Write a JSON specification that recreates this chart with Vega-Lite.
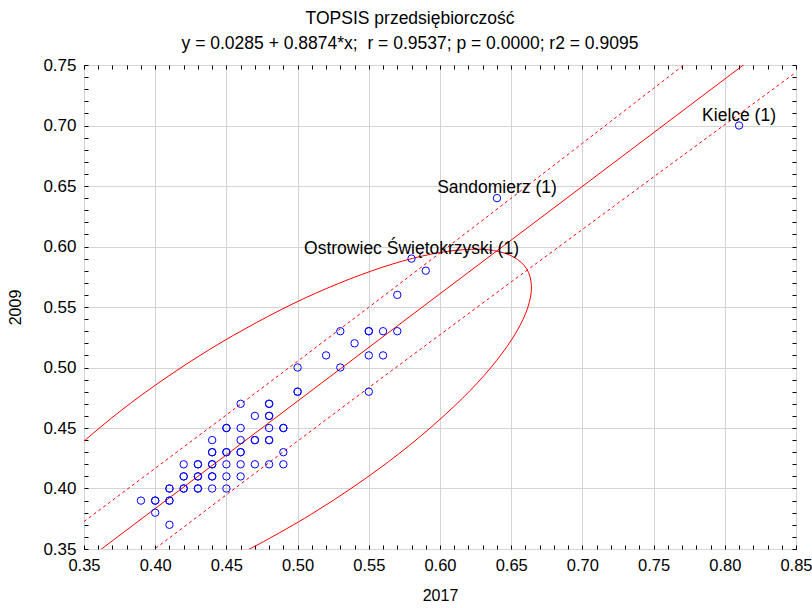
{
  "$schema": "https://vega.github.io/schema/vega-lite/v6.json",
  "width": 712,
  "height": 484,
  "autosize": "none",
  "padding": {"left": 84, "top": 65, "right": 16, "bottom": 59},
  "background": "white",
  "title": {
    "text": ["TOPSIS przedsiębiorczość", "y = 0.0285 + 0.8874*x;\u00a0 r = 0.9537; p = 0.0000; r2 = 0.9095"],
    "font": "Liberation Sans",
    "fontSize": 17.5,
    "fontWeight": "normal",
    "color": "black",
    "anchor": "middle",
    "frame": "bounds",
    "lineHeight": 25,
    "offset": 4
  },
  "config": {
    "view": {"stroke": "black", "strokeWidth": 1},
    "axis": {
      "labelFont": "Liberation Sans",
      "labelFontSize": 17,
      "labelColor": "black",
      "titleFont": "Liberation Sans",
      "titleFontSize": 16,
      "titleFontWeight": "normal",
      "titleColor": "black",
      "domain": false,
      "tickColor": "black",
      "gridColor": "#d4d4d4",
      "gridWidth": 1
    }
  },
  "datasets": {
    "towns": [
      {"x": 0.41, "y": 0.37, "label": ""},
      {"x": 0.40, "y": 0.38, "label": ""},
      {"x": 0.39, "y": 0.39, "label": ""},
      {"x": 0.40, "y": 0.39, "label": ""},
      {"x": 0.40, "y": 0.39, "label": ""},
      {"x": 0.41, "y": 0.39, "label": ""},
      {"x": 0.41, "y": 0.39, "label": ""},
      {"x": 0.41, "y": 0.40, "label": ""},
      {"x": 0.41, "y": 0.40, "label": ""},
      {"x": 0.42, "y": 0.40, "label": ""},
      {"x": 0.42, "y": 0.40, "label": ""},
      {"x": 0.43, "y": 0.40, "label": ""},
      {"x": 0.43, "y": 0.40, "label": ""},
      {"x": 0.44, "y": 0.40, "label": ""},
      {"x": 0.45, "y": 0.40, "label": ""},
      {"x": 0.42, "y": 0.41, "label": ""},
      {"x": 0.42, "y": 0.41, "label": ""},
      {"x": 0.43, "y": 0.41, "label": ""},
      {"x": 0.43, "y": 0.41, "label": ""},
      {"x": 0.44, "y": 0.41, "label": ""},
      {"x": 0.44, "y": 0.41, "label": ""},
      {"x": 0.45, "y": 0.41, "label": ""},
      {"x": 0.46, "y": 0.41, "label": ""},
      {"x": 0.42, "y": 0.42, "label": ""},
      {"x": 0.43, "y": 0.42, "label": ""},
      {"x": 0.43, "y": 0.42, "label": ""},
      {"x": 0.44, "y": 0.42, "label": ""},
      {"x": 0.44, "y": 0.42, "label": ""},
      {"x": 0.45, "y": 0.42, "label": ""},
      {"x": 0.46, "y": 0.42, "label": ""},
      {"x": 0.47, "y": 0.42, "label": ""},
      {"x": 0.48, "y": 0.42, "label": ""},
      {"x": 0.49, "y": 0.42, "label": ""},
      {"x": 0.44, "y": 0.43, "label": ""},
      {"x": 0.44, "y": 0.43, "label": ""},
      {"x": 0.45, "y": 0.43, "label": ""},
      {"x": 0.45, "y": 0.43, "label": ""},
      {"x": 0.46, "y": 0.43, "label": ""},
      {"x": 0.46, "y": 0.43, "label": ""},
      {"x": 0.49, "y": 0.43, "label": ""},
      {"x": 0.44, "y": 0.44, "label": ""},
      {"x": 0.46, "y": 0.44, "label": ""},
      {"x": 0.47, "y": 0.44, "label": ""},
      {"x": 0.47, "y": 0.44, "label": ""},
      {"x": 0.48, "y": 0.44, "label": ""},
      {"x": 0.48, "y": 0.44, "label": ""},
      {"x": 0.45, "y": 0.45, "label": ""},
      {"x": 0.45, "y": 0.45, "label": ""},
      {"x": 0.46, "y": 0.45, "label": ""},
      {"x": 0.48, "y": 0.45, "label": ""},
      {"x": 0.49, "y": 0.45, "label": ""},
      {"x": 0.49, "y": 0.45, "label": ""},
      {"x": 0.47, "y": 0.46, "label": ""},
      {"x": 0.48, "y": 0.46, "label": ""},
      {"x": 0.48, "y": 0.46, "label": ""},
      {"x": 0.46, "y": 0.47, "label": ""},
      {"x": 0.48, "y": 0.47, "label": ""},
      {"x": 0.48, "y": 0.47, "label": ""},
      {"x": 0.50, "y": 0.48, "label": ""},
      {"x": 0.50, "y": 0.48, "label": ""},
      {"x": 0.55, "y": 0.48, "label": ""},
      {"x": 0.50, "y": 0.50, "label": ""},
      {"x": 0.53, "y": 0.50, "label": ""},
      {"x": 0.52, "y": 0.51, "label": ""},
      {"x": 0.55, "y": 0.51, "label": ""},
      {"x": 0.56, "y": 0.51, "label": ""},
      {"x": 0.54, "y": 0.52, "label": ""},
      {"x": 0.53, "y": 0.53, "label": ""},
      {"x": 0.55, "y": 0.53, "label": ""},
      {"x": 0.55, "y": 0.53, "label": ""},
      {"x": 0.56, "y": 0.53, "label": ""},
      {"x": 0.57, "y": 0.53, "label": ""},
      {"x": 0.57, "y": 0.56, "label": ""},
      {"x": 0.59, "y": 0.58, "label": ""},
      {"x": 0.58, "y": 0.59, "label": "Ostrowiec Świętokrzyski (1)"},
      {"x": 0.64, "y": 0.64, "label": "Sandomierz (1)"},
      {"x": 0.81, "y": 0.70, "label": "Kielce (1)"}
    ],
    "fit": [
      {"x": 0.35, "y": 0.3391},
      {"x": 0.85, "y": 0.7828}
    ],
    "band": [
      {"x": 0.35, "lo": 0.3055, "hi": 0.3727},
      {"x": 0.40, "lo": 0.3503, "hi": 0.4167},
      {"x": 0.45, "lo": 0.3948, "hi": 0.4608},
      {"x": 0.50, "lo": 0.4392, "hi": 0.5052},
      {"x": 0.55, "lo": 0.4834, "hi": 0.5498},
      {"x": 0.60, "lo": 0.5271, "hi": 0.5947},
      {"x": 0.65, "lo": 0.5707, "hi": 0.6399},
      {"x": 0.70, "lo": 0.6141, "hi": 0.6853},
      {"x": 0.75, "lo": 0.6575, "hi": 0.7307},
      {"x": 0.80, "lo": 0.7007, "hi": 0.7761},
      {"x": 0.85, "lo": 0.7440, "hi": 0.8216}
    ],
    "ellipse": [
      {"k": 1, "x": 0.3370, "y": 0.4252},
      {"k": 2, "x": 0.3492, "y": 0.4383},
      {"k": 3, "x": 0.3762, "y": 0.4646},
      {"k": 4, "x": 0.4062, "y": 0.4904},
      {"k": 5, "x": 0.4381, "y": 0.5149},
      {"k": 6, "x": 0.4712, "y": 0.5372},
      {"k": 7, "x": 0.5043, "y": 0.5569},
      {"k": 8, "x": 0.5366, "y": 0.5731},
      {"k": 9, "x": 0.5669, "y": 0.5856},
      {"k": 10, "x": 0.5943, "y": 0.5938},
      {"k": 11, "x": 0.6181, "y": 0.5975},
      {"k": 12, "x": 0.6375, "y": 0.5967},
      {"k": 13, "x": 0.6519, "y": 0.5912},
      {"k": 14, "x": 0.6609, "y": 0.5815},
      {"k": 15, "x": 0.6642, "y": 0.5676},
      {"k": 16, "x": 0.6618, "y": 0.5501},
      {"k": 17, "x": 0.6536, "y": 0.5293},
      {"k": 18, "x": 0.6399, "y": 0.5060},
      {"k": 19, "x": 0.6212, "y": 0.4810},
      {"k": 20, "x": 0.5979, "y": 0.4550},
      {"k": 21, "x": 0.5710, "y": 0.4286},
      {"k": 22, "x": 0.5410, "y": 0.4028},
      {"k": 23, "x": 0.5090, "y": 0.3783},
      {"k": 24, "x": 0.4759, "y": 0.3560},
      {"k": 25, "x": 0.4593, "y": 0.3458}
    ]
  },
  "resolve": {"axis": {"x": "independent", "y": "independent"}},
  "layer": [
    {
      "data": {"name": "ellipse"},
      "mark": {"type": "line", "color": "#ff0000", "strokeWidth": 1, "interpolate": "catmull-rom", "clip": true},
      "encoding": {
        "x": {"field": "x", "type": "quantitative", "scale": {"domain": [0.35, 0.85], "nice": false, "zero": false},
          "axis": {
            "orient": "bottom", "title": "2017", "titlePadding": 14, "labelFontSize": 16.5,
            "values": [0.35,0.36,0.37,0.38,0.39,0.40,0.41,0.42,0.43,0.44,0.45,0.46,0.47,0.48,0.49,0.50,0.51,0.52,0.53,0.54,0.55,0.56,0.57,0.58,0.59,0.60,0.61,0.62,0.63,0.64,0.65,0.66,0.67,0.68,0.69,0.70,0.71,0.72,0.73,0.74,0.75,0.76,0.77,0.78,0.79,0.80,0.81,0.82,0.83,0.84,0.85],
            "labelExpr": "abs(datum.value*20 - round(datum.value*20)) < 1e-6 ? format(datum.value, '.2f') : ''",
            "labelOverlap": false, "labelFlush": false,
            "gridOpacity": {"condition": {"test": "abs(datum.value*20 - round(datum.value*20)) < 1e-6", "value": 1}, "value": 0},
            "tickSize": -4, "labelPadding": 12
          }},
        "y": {"field": "y", "type": "quantitative", "scale": {"domain": [0.35, 0.75], "nice": false, "zero": false},
          "axis": {
            "orient": "left", "title": "2009", "titlePadding": 19,
            "values": [0.35,0.36,0.37,0.38,0.39,0.40,0.41,0.42,0.43,0.44,0.45,0.46,0.47,0.48,0.49,0.50,0.51,0.52,0.53,0.54,0.55,0.56,0.57,0.58,0.59,0.60,0.61,0.62,0.63,0.64,0.65,0.66,0.67,0.68,0.69,0.70,0.71,0.72,0.73,0.74,0.75],
            "labelExpr": "abs(datum.value*20 - round(datum.value*20)) < 1e-6 ? format(datum.value, '.2f') : ''",
            "labelOverlap": false, "labelFlush": false,
            "gridOpacity": {"condition": {"test": "abs(datum.value*20 - round(datum.value*20)) < 1e-6", "value": 1}, "value": 0},
            "tickSize": -4, "labelPadding": 12
          }},
        "order": {"field": "k", "type": "quantitative"}
      }
    },
    {
      "data": {"name": "band"},
      "mark": {"type": "line", "color": "#ff0000", "strokeWidth": 1, "strokeDash": [3, 3], "clip": true},
      "encoding": {
        "x": {"field": "x", "type": "quantitative", "axis": {
            "orient": "top", "title": null, "labels": false, "grid": false,
            "values": [0.35,0.36,0.37,0.38,0.39,0.40,0.41,0.42,0.43,0.44,0.45,0.46,0.47,0.48,0.49,0.50,0.51,0.52,0.53,0.54,0.55,0.56,0.57,0.58,0.59,0.60,0.61,0.62,0.63,0.64,0.65,0.66,0.67,0.68,0.69,0.70,0.71,0.72,0.73,0.74,0.75,0.76,0.77,0.78,0.79,0.80,0.81,0.82,0.83,0.84,0.85],
            "tickSize": -4}},
        "y": {"field": "lo", "type": "quantitative", "axis": {
            "orient": "right", "title": null, "labels": false, "grid": false,
            "values": [0.35,0.36,0.37,0.38,0.39,0.40,0.41,0.42,0.43,0.44,0.45,0.46,0.47,0.48,0.49,0.50,0.51,0.52,0.53,0.54,0.55,0.56,0.57,0.58,0.59,0.60,0.61,0.62,0.63,0.64,0.65,0.66,0.67,0.68,0.69,0.70,0.71,0.72,0.73,0.74,0.75],
            "tickSize": -4}}
      }
    },
    {
      "data": {"name": "band"},
      "mark": {"type": "line", "color": "#ff0000", "strokeWidth": 1, "strokeDash": [3, 3], "clip": true},
      "encoding": {
        "x": {"field": "x", "type": "quantitative", "axis": null},
        "y": {"field": "hi", "type": "quantitative", "axis": null}
      }
    },
    {
      "data": {"name": "fit"},
      "mark": {"type": "line", "color": "#ff0000", "strokeWidth": 1, "clip": true},
      "encoding": {
        "x": {"field": "x", "type": "quantitative", "axis": null},
        "y": {"field": "y", "type": "quantitative", "axis": null}
      }
    },
    {
      "data": {"name": "towns"},
      "mark": {"type": "point", "shape": "circle", "filled": false, "color": "#0000ff", "size": 55, "strokeWidth": 1, "opacity": 1},
      "encoding": {
        "x": {"field": "x", "type": "quantitative", "axis": null},
        "y": {"field": "y", "type": "quantitative", "axis": null}
      }
    },
    {
      "data": {"name": "towns"},
      "transform": [{"filter": "datum.label != ''"}],
      "mark": {"type": "text", "font": "Liberation Sans", "fontSize": 17.5, "color": "black", "align": "center", "baseline": "alphabetic", "dy": -5},
      "encoding": {
        "x": {"field": "x", "type": "quantitative", "axis": null},
        "y": {"field": "y", "type": "quantitative", "axis": null},
        "text": {"field": "label"}
      }
    }
  ]
}
